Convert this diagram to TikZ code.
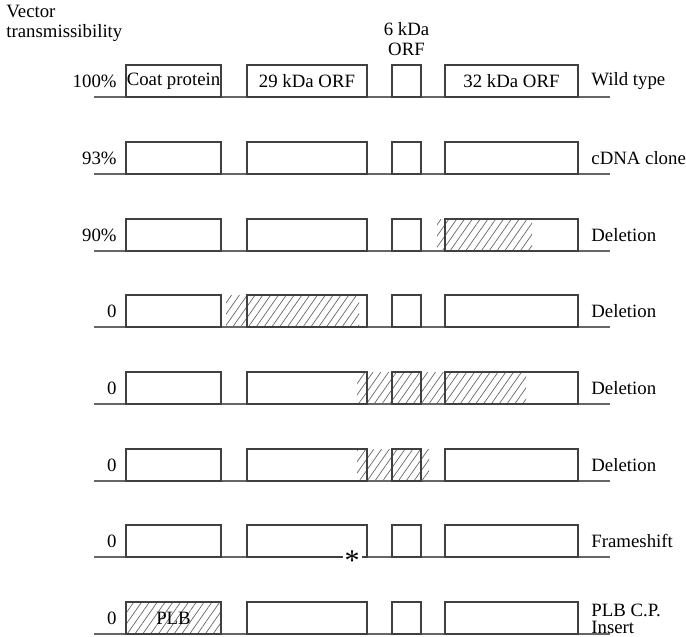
\documentclass[tikz,border=0pt]{standalone}
\usepackage{fontspec}
\setmainfont{Liberation Serif}
\usetikzlibrary{positioning, patterns.meta}

\tikzset{
  orf/.style={draw=black!75, line width=0.6pt, minimum height=16pt, inner sep=0pt, outer sep=0pt, anchor=south west},
  backbone/.style={draw=black!60, line width=0.7pt},
  hatch/.style={pattern={Lines[angle=55, distance=3.2pt, line width=0.35pt]}, pattern color=black!60},
  trans/.style={anchor=east, inner sep=0pt},
  kind/.style={anchor=west, inner sep=0pt, align=left},
}

\begin{document}
\begin{tikzpicture}[x=0.5pt, y=-0.5pt, font=\fontsize{9.4}{10}\selectfont]
  \useasboundingbox (0,0) rectangle (686,637);

  % deleted / replaced regions
  \fill[hatch] (437,219) rectangle (532,251);
  \fill[hatch] (226,295) rectangle (359,327);
  \fill[hatch] (357,372) rectangle (526,404);
  \fill[hatch] (357,449) rectangle (429,481);
  \fill[hatch] (126,602) rectangle (221,634);

  \foreach \r/\y/\pct/\kind in {1/97/100\%/Wild type, 2/174/93\%/cDNA clone,
      3/251/90\%/Deletion, 4/327/0/Deletion, 5/404/0/Deletion, 6/481/0/Deletion,
      7/557/0/Frameshift} {
    \coordinate (l\r) at (94,\y);
    \coordinate (r\r) at (610,\y);
    \draw[backbone] (l\r) -- (r\r);
    \node[orf, minimum width=47.5pt] (cp\r) at (126,\y) {};
    \node[orf, minimum width=60pt] (orfA\r) at (247,\y) {};
    \node[orf, minimum width=14.5pt] (orfB\r) at (392,\y) {};
    \node[orf, minimum width=66.5pt] (orfC\r) at (445,\y) {};
    \node[trans] (pct\r) at (117,\y-16) {\pct};
    \node[kind] (kind\r) at (591,\y-16) {\kind};
  }

  % PLB coat protein insert
  \coordinate (l8) at (94,634);
  \coordinate (r8) at (610,634);
  \draw[backbone] (l8) -- (r8);
  \node[orf, minimum width=47.5pt] (cp8) at (126,634) {};
  \node[orf, minimum width=60pt] (orfA8) at (247,634) {};
  \node[orf, minimum width=14.5pt] (orfB8) at (392,634) {};
  \node[orf, minimum width=66.5pt] (orfC8) at (445,634) {};
  \node[trans] (pct8) at (117,618) {0};
  \node[kind, font=\fontsize{9.4}{8.4}\selectfont] (kind8) at (591,619) {PLB C.P.\\Insert};

  \node (cpname) at (cp1) {Coat protein};
  \node (orfAname) at (orfA1) {29 kDa ORF};
  \node (orfCname) at (orfC1) {32 kDa ORF};
  \node[align=center, above=1pt of orfB1] (orfBname) {6 kDa\\ORF};
  \node (plb) at (cp8) {PLB};
  \node[fill=white, inner sep=1pt, font=\fontsize{15}{15}\selectfont] (stop) at (352,561) {*};

  \node[anchor=west, align=left, inner sep=0pt] (vt) at (6,23) {Vector\\transmissibility};
\end{tikzpicture}
\end{document}
